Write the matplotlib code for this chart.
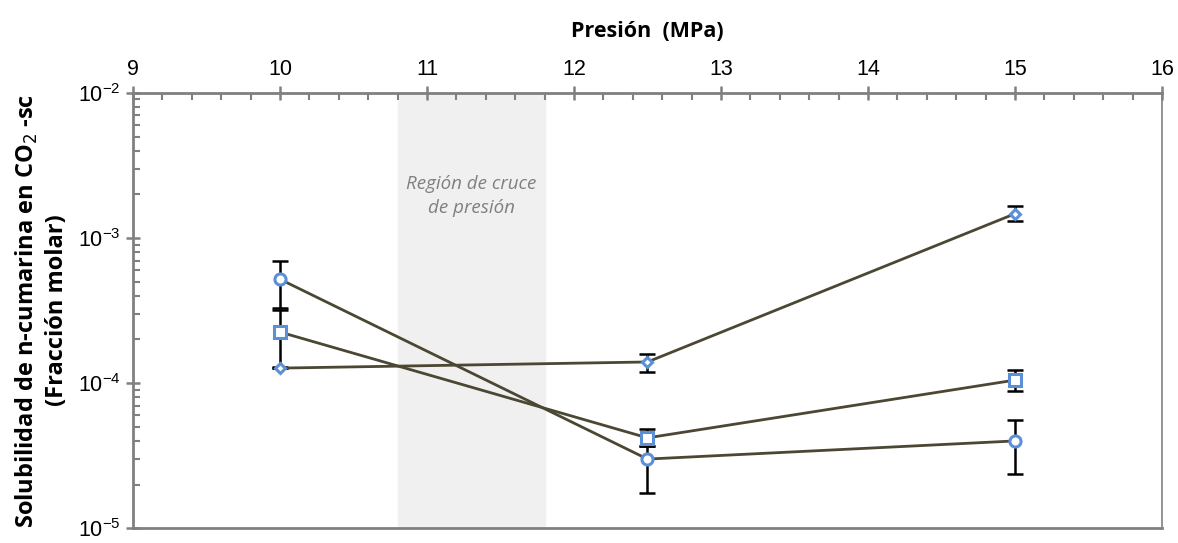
import matplotlib.pyplot as plt
from matplotlib.ticker import FixedLocator, LogLocator, NullFormatter
import numpy as np

# presiones (MPa)
presion = [10, 12.5, 15]

# serie circulos
y_circ = [5.2e-4, 3.0e-5, 4.0e-5]
err_circ_lo = [3.3e-4, 1.75e-5, 2.35e-5]
err_circ_hi = [6.9e-4, 3.7e-5, 5.6e-5]

# serie cuadrados
y_cuad = [2.25e-4, 4.2e-5, 1.05e-4]
err_cuad_lo = [1.3e-4, 3.7e-5, 8.8e-5]
err_cuad_hi = [3.2e-4, 4.8e-5, 1.24e-4]

# serie rombos
y_romb = [1.27e-4, 1.4e-4, 1.47e-3]
err_romb_lo = [1.27e-4, 1.2e-4, 1.3e-3]
err_romb_hi = [1.27e-4, 1.6e-4, 1.65e-3]

region_cruce = (10.8, 11.8)

linea = '#4b4733'
azul = '#5b8fd6'
gris = '#808080'

plt.rcParams['font.family'] = ['Liberation Sans', 'DejaVu Sans']

fig = plt.figure(figsize=(11.78, 5.43), dpi=100)
ax = fig.add_axes([0.1129, 0.027, 0.8735, 0.802])

ax.axvspan(*region_cruce, color='#f0f0f0', zorder=0)
ax.text(sum(region_cruce) / 2, 1.95e-3, 'Región de cruce\nde presión', ha='center', va='center',
        fontsize=13.5, style='italic', color='#7f7f7f', family='Open Sans', linespacing=1.4)

series = [
    (y_circ, err_circ_lo, err_circ_hi, 'o', 8),
    (y_cuad, err_cuad_lo, err_cuad_hi, 's', 8),
    (y_romb, err_romb_lo, err_romb_hi, 'D', 5.5),
]
for y, lo, hi, mk, ms in series:
    y = np.array(y)
    yerr = [y - np.array(lo), np.array(hi) - y]
    ax.errorbar(presion, y, yerr=yerr, fmt='none', ecolor='black', elinewidth=1.8,
                capsize=6, capthick=1.8, zorder=2)
    ax.plot(presion, y, color=linea, lw=2, zorder=3)
    ax.plot(presion, y, ls='none', marker=mk, ms=ms, mfc='white', mec=azul, mew=2.2, zorder=4)

ax.set_yscale('log')
ax.set_ylim(1e-5, 1e-2)
ax.set_xlim(9, 16)

ax.xaxis.tick_top()
ax.xaxis.set_label_position('top')
ax.set_xticks(range(9, 17))
ax.xaxis.set_minor_locator(FixedLocator(np.arange(9, 16.01, 0.2)))
ax.yaxis.set_minor_locator(LogLocator(base=10, subs=np.arange(2, 10)))
ax.yaxis.set_minor_formatter(NullFormatter())

ax.tick_params(axis='both', which='major', direction='inout', length=10, width=1.8,
               color=gris, labelsize=15.5, pad=4)
ax.tick_params(axis='both', which='minor', direction='in', length=5, width=1.5, color=gris)
ax.tick_params(axis='x', which='both', top=True, bottom=False)
ax.tick_params(axis='y', which='both', left=True, right=False)

for s in ['left', 'top', 'bottom']:
    ax.spines[s].set_color(gris)
    ax.spines[s].set_linewidth(2)
ax.spines['right'].set_color(gris)
ax.spines['right'].set_linewidth(1.2)

ax.set_xlabel('Presión  (MPa)', fontsize=15.5, fontweight='bold', family='Open Sans', labelpad=16)
ax.set_ylabel('Solubilidad de n-cumarina en CO$_2$ -sc\n(Fracción molar)', fontsize=17,
              fontweight='bold', family='Open Sans', labelpad=6, linespacing=1.3)

fig.savefig('out.png', dpi=100)
